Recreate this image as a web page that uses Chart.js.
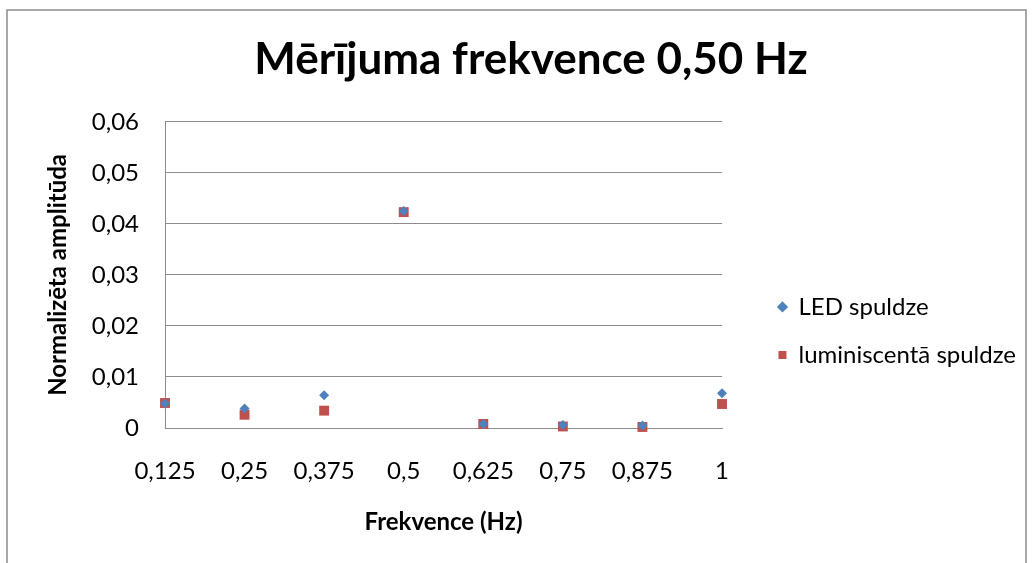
<!DOCTYPE html>
<html>
<head>
<meta charset="utf-8">
<script src="https://cdn.jsdelivr.net/npm/chart.js@4/dist/chart.umd.min.js"></script>
<style>
  html, body { margin: 0; padding: 0; background: #fff; }
  canvas { display: block; }
</style>
</head>
<body>
<canvas id="chart" width="1034" height="563"></canvas>
<script>
const chartTitle = "Mērījuma frekvence 0,50 Hz";
const xTitle = "Frekvence (Hz)";
const yTitle = "Normalizēta amplitūda";
const seriesNames = ["LED spuldze", "luminiscentā spuldze"];

const frequencies = [0.125, 0.25, 0.375, 0.5, 0.625, 0.75, 0.875, 1];
const ledValues = [0.0048, 0.0038, 0.0064, 0.0425, 0.0008, 0.0006, 0.0005, 0.0068];
const luminValues = [0.0049, 0.0026, 0.0034, 0.0423, 0.0008, 0.0003, 0.0002, 0.0047];

const PLOT_RIGHT = 722;
const PAD_RIGHT = 8;
const GRID = "#8c8c8c";

Chart.defaults.font.family = "Lato";
Chart.defaults.color = "#000";

const toPoints = (ys) => frequencies.map((x, i) => ({ x, y: ys[i] }));
const comma = (v) => String(v).replace(".", ",");

// grey frame round the whole chart, like the spreadsheet's chart border
const frame = {
  id: "frame",
  beforeDraw(chart) {
    const ctx = chart.ctx;
    ctx.save();
    ctx.strokeStyle = GRID;
    ctx.lineWidth = 1.5;
    ctx.strokeRect(7, 10, 1019, 600);
    ctx.restore();
  },
};

new Chart(document.getElementById("chart"), {
  type: "scatter",
  data: {
    datasets: [
      {
        label: seriesNames[0],
        data: toPoints(ledValues),
        pointStyle: "rectRot",
        pointRadius: 5,
        backgroundColor: "#4F81BD",
        borderColor: "#4F81BD",
        borderWidth: 0,
        clip: false,
      },
      {
        label: seriesNames[1],
        data: toPoints(luminValues),
        pointStyle: "rect",
        pointRadius: 7,
        backgroundColor: "#C0504D",
        borderColor: "#C0504D",
        borderWidth: 0,
        clip: false,
      },
    ],
  },
  options: {
    responsive: false,
    animation: false,
    events: [],
    layout: { padding: { left: 36, right: PAD_RIGHT, top: 0, bottom: 0 } },
    scales: {
      x: {
        type: "linear",
        min: 0.125,
        max: 1,
        grid: { display: false, drawTicks: false },
        border: { display: true, color: GRID, width: 1 },
        ticks: {
          stepSize: 0.125,
          padding: 29,
          font: { size: 24 },
          callback: (v) => comma(v),
        },
        title: {
          display: true,
          text: xTitle,
          font: { size: 24, weight: "bold" },
          padding: { top: 26, bottom: 26 },
        },
        afterFit(scale) {
          scale.height = 135;
        },
      },
      y: {
        min: 0,
        max: 0.06,
        grid: { color: GRID, lineWidth: 1, drawTicks: false },
        border: { display: true, color: GRID, width: 1 },
        ticks: {
          stepSize: 0.01,
          padding: 26,
          font: { size: 24 },
          callback: (v) => (v === 0 ? "0" : comma(v.toFixed(2))),
        },
        title: {
          display: true,
          text: yTitle,
          font: { size: 24, weight: "bold" },
          padding: { top: 8, bottom: 8 },
        },
        afterFit(scale) {
          scale.width = 129;
        },
      },
      // empty spacer between the plot and the legend
      gap: {
        type: "linear",
        position: "right",
        grid: { display: false, drawTicks: false },
        border: { display: false },
        ticks: { display: false },
        afterFit(scale) {
          const lw = scale.chart.legend ? scale.chart.legend.width : 0;
          scale.width = Math.max(0, 1034 - PAD_RIGHT - lw - PLOT_RIGHT);
        },
      },
    },
    plugins: {
      title: {
        display: true,
        text: chartTitle,
        font: { size: 44, weight: "bold" },
        padding: { top: 33, bottom: 36 },
      },
      legend: {
        position: "right",
        maxWidth: 400,
        title: { display: true, text: " ", font: { size: 24 }, padding: { top: 70, bottom: 0 } },
        labels: {
          usePointStyle: true,
          boxWidth: 8,
          boxHeight: 8,
          padding: 24,
          font: { size: 24 },
          color: "#000",
        },
      },
      tooltip: { enabled: false },
    },
  },
  plugins: [frame],
});
</script>
</body>
</html>
